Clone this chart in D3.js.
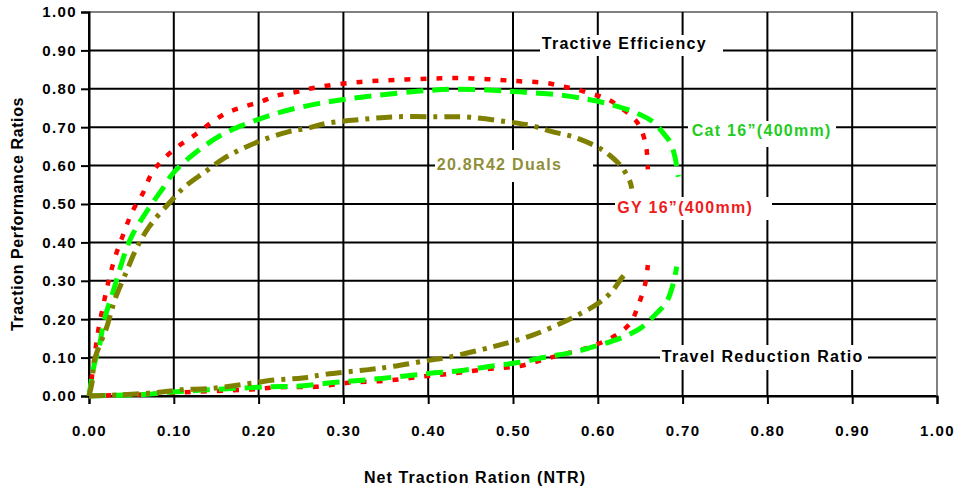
<!DOCTYPE html>
<html><head><meta charset="utf-8">
<script src="https://cdn.jsdelivr.net/npm/d3@7"></script>
<style>
html,body{margin:0;padding:0;background:#fff;}
svg{display:block;}
text{font-family:"Liberation Sans",Arial,Helvetica,sans-serif;font-weight:bold;}
</style></head>
<body>
<svg id="chart" width="961" height="490"></svg>
<script>
// ---- data ----
const xTicks = [0,0.1,0.2,0.3,0.4,0.5,0.6,0.7,0.8,0.9,1.0];
const yTicks = [0,0.1,0.2,0.3,0.4,0.5,0.6,0.7,0.8,0.9,1.0];
const xTitle = "Net Traction Ration (NTR)";
const yTitle = "Traction Performance Ratios";
const seriesNames = ["GY 16\u201d(400mm)", "Cat 16\u201d(400mm)", "20.8R42 Duals"];
const curveNames = ["Tractive Efficiency", "Travel Reduction Ratio"];

// GY 16"(400mm) tractive efficiency [NTR, ratio]
const gyTE = [[0,0],[0.006,0.089],[0.01,0.159],[0.023,0.298],[0.031,0.363],[0.041,0.424],[0.051,0.48],[0.064,0.53],[0.074,0.58],[0.087,0.615],[0.105,0.65],[0.125,0.68],[0.143,0.71],[0.162,0.737],[0.182,0.753],[0.202,0.766],[0.221,0.782],[0.241,0.79],[0.26,0.80],[0.28,0.808],[0.32,0.818],[0.36,0.823],[0.40,0.826],[0.43,0.828],[0.47,0.825],[0.505,0.82],[0.54,0.815],[0.558,0.806],[0.573,0.80],[0.588,0.79],[0.603,0.78],[0.614,0.77],[0.626,0.753],[0.642,0.724],[0.65,0.70],[0.656,0.66],[0.658,0.633],[0.659,0.59]];
// GY 16"(400mm) travel reduction
const gyTR = [[0,0],[0.03,0.002],[0.056,0.003],[0.087,0.007],[0.127,0.011],[0.19,0.017],[0.225,0.023],[0.267,0.024],[0.308,0.035],[0.351,0.04],[0.39,0.05],[0.43,0.059],[0.469,0.07],[0.508,0.078],[0.544,0.1],[0.591,0.128],[0.618,0.154],[0.638,0.189],[0.647,0.232],[0.656,0.293],[0.659,0.341]];
// Cat 16"(400mm) tractive efficiency
const catTE = [[0,0],[0.006,0.08],[0.012,0.128],[0.018,0.198],[0.029,0.276],[0.043,0.376],[0.051,0.419],[0.069,0.484],[0.09,0.55],[0.099,0.58],[0.125,0.633],[0.158,0.682],[0.192,0.714],[0.227,0.74],[0.267,0.76],[0.30,0.772],[0.34,0.783],[0.39,0.794],[0.43,0.799],[0.488,0.795],[0.52,0.79],[0.555,0.784],[0.587,0.773],[0.614,0.76],[0.642,0.74],[0.665,0.714],[0.677,0.685],[0.685,0.662],[0.691,0.623],[0.693,0.597],[0.695,0.571]];
// Cat 16"(400mm) travel reduction
const catTR = [[0,0],[0.03,0.002],[0.064,0.004],[0.103,0.011],[0.139,0.016],[0.174,0.02],[0.213,0.024],[0.249,0.026],[0.288,0.035],[0.327,0.042],[0.363,0.05],[0.402,0.059],[0.437,0.066],[0.476,0.078],[0.508,0.088],[0.54,0.102],[0.571,0.114],[0.599,0.131],[0.626,0.15],[0.65,0.176],[0.665,0.206],[0.681,0.245],[0.689,0.293],[0.693,0.337]];
// 20.8R42 Duals tractive efficiency
const dualTE = [[0,0],[0.004,0.04],[0.006,0.09],[0.021,0.18],[0.031,0.254],[0.045,0.328],[0.055,0.38],[0.071,0.441],[0.096,0.506],[0.113,0.545],[0.137,0.584],[0.16,0.62],[0.18,0.643],[0.205,0.667],[0.235,0.688],[0.257,0.697],[0.28,0.71],[0.32,0.72],[0.36,0.727],[0.41,0.727],[0.449,0.726],[0.493,0.714],[0.52,0.705],[0.547,0.688],[0.571,0.675],[0.599,0.649],[0.614,0.627],[0.628,0.597],[0.638,0.558],[0.64,0.54]];
// 20.8R42 Duals travel reduction
const dualTR = [[0,0],[0.037,0.003],[0.08,0.009],[0.107,0.016],[0.146,0.02],[0.184,0.031],[0.221,0.042],[0.252,0.047],[0.28,0.057],[0.327,0.068],[0.355,0.076],[0.398,0.092],[0.426,0.102],[0.465,0.122],[0.488,0.135],[0.524,0.159],[0.561,0.194],[0.581,0.216],[0.594,0.232],[0.606,0.25],[0.618,0.276],[0.628,0.307],[0.636,0.328]];

// ---- drawing ----
const svg = d3.select("#chart");
const L = 89, R = 937, T = 12, B = 396;
const x = d3.scaleLinear().domain([0,1]).range([L,R]);
const y = d3.scaleLinear().domain([0,1]).range([B,T]);
const fmt = d3.format(".2f");

// grid
const grid = svg.append("g");
grid.selectAll("line.h").data(yTicks).join("line")
  .attr("x1", L).attr("x2", R).attr("y1", d=>y(d)).attr("y2", d=>y(d))
  .attr("stroke", d => d===1 ? "#808080" : "#000").attr("stroke-width", 2);
grid.selectAll("line.v").data(xTicks).join("line")
  .attr("y1", T).attr("y2", B).attr("x1", d=>x(d)).attr("x2", d=>x(d))
  .attr("stroke", d => d===1 ? "#808080" : "#000").attr("stroke-width", 2);

// axes
const yAxis = d3.axisLeft(y).tickValues(yTicks).tickFormat(fmt).tickSize(8).tickPadding(4);
const xAxis = d3.axisBottom(x).tickValues(xTicks).tickFormat(fmt).tickSize(8).tickPadding(21);
const gy = svg.append("g").attr("transform", `translate(${L},0)`).call(yAxis);
const gx = svg.append("g").attr("transform", `translate(0,${B})`).call(xAxis);
[gy, gx].forEach(g => {
  g.select(".domain").attr("stroke", "#000").attr("stroke-width", 2);
  g.selectAll(".tick line").attr("stroke", "#000").attr("stroke-width", 2);
  g.selectAll(".tick text").attr("fill", "#000").style("font-family", '"Liberation Sans",Arial,sans-serif')
    .style("font-weight", "bold").style("font-size", "15px").style("letter-spacing", "1.4px");
});
gy.selectAll(".tick text").attr("x", -12);

// axis titles
svg.append("text").attr("x", 475).attr("y", 483).attr("text-anchor", "middle")
  .style("font-size", "16px").style("letter-spacing", "1.1px").text(xTitle);
svg.append("text").attr("transform", "translate(23,214) rotate(-90)").attr("text-anchor", "middle")
  .style("font-size", "16px").style("letter-spacing", "0.6px").text(yTitle);

// annotation labels (white boxes cutting the grid)
const annos = [
  {text: curveNames[0], color: "#000", tx: 541.7, base: 49.3, bx0: 540, bx1: 723, by0: 35, by1: 56},
  {text: seriesNames[1], color: "#22cc22", tx: 691.7, base: 135.7, bx0: 688, bx1: 836, by0: 121, by1: 147},
  {text: seriesNames[0], color: "#ee1c1c", tx: 617.3, base: 213.3, bx0: 615, bx1: 772, by0: 197, by1: 220},
  {text: curveNames[1], color: "#000", tx: 661.7, base: 361.7, bx0: 660, bx1: 868, by0: 345, by1: 370},
  {text: seriesNames[2], color: "#8f8f3a", tx: 436.7, base: 170, bx0: 435, bx1: 593, by0: 150, by1: 182}
];
const ag = svg.append("g");
annos.forEach(a => {
  ag.append("rect").attr("x", a.bx0).attr("y", a.by0).attr("width", a.bx1 - a.bx0).attr("height", a.by1 - a.by0).attr("fill", "#fff");
  ag.append("text").attr("x", a.tx).attr("y", a.base).attr("fill", a.color)
    .style("font-size", "16px").style("letter-spacing", "1.3px").text(a.text);
});

// curves
const line = d3.line().x(d=>x(d[0])).y(d=>y(d[1])).curve(d3.curveCatmullRom.alpha(0.5));
const styles = [
  {data: gyTE, color: "#ff0000", dash: "6,10", w: 4.5},
  {data: gyTR, color: "#ff0000", dash: "6,10", w: 4.5},
  {data: catTE, color: "#00ff00", dash: "17,9", w: 5},
  {data: catTR, color: "#00ff00", dash: "17,9", w: 5},
  {data: dualTE, color: "#808000", dash: "16,7,4,7", w: 5},
  {data: dualTR, color: "#808000", dash: "16,7,4,7", w: 5}
];
const cg = svg.append("g");
styles.forEach(s => {
  cg.append("path").datum(s.data).attr("d", line).attr("fill", "none")
    .attr("stroke", s.color).attr("stroke-width", s.w).attr("stroke-dasharray", s.dash)
    .attr("stroke-linecap", "butt");
});
</script>
</body></html>
